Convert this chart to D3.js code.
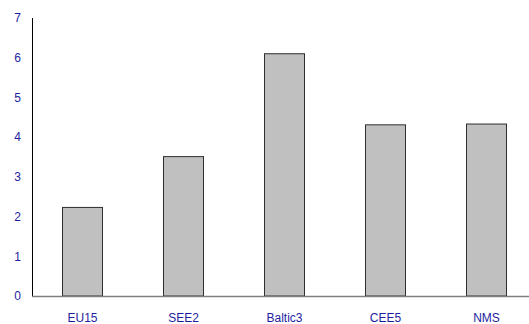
<!DOCTYPE html>
<html>
<head>
<meta charset="utf-8">
<script src="https://cdn.jsdelivr.net/npm/d3@7"></script>
<style>
  html, body { margin: 0; padding: 0; background: #fff; }
  svg { display: block; }
  text { font-family: "Liberation Sans", Arial, sans-serif; }
</style>
</head>
<body>
<svg id="chart" width="529" height="324"></svg>
<script>
// Regional groups and their values
const categories = ["EU15", "SEE2", "Baltic3", "CEE5", "NMS"];
const values = [2.23, 3.51, 6.1, 4.31, 4.33];
const yTicks = [0, 1, 2, 3, 4, 5, 6, 7];

const svg = d3.select("#chart");
const plotLeft = 32, plotRight = 537, plotTop = 18, plotBottom = 296;
const textColor = "#1e1ea0";

const x = d3.scaleBand()
  .domain(categories)
  .range([plotLeft, plotRight])
  .paddingInner(0.6)
  .paddingOuter(0.3);

const y = d3.scaleLinear()
  .domain([0, 7])
  .range([plotBottom, plotTop]);

// Bars
svg.append("g")
  .selectAll("rect")
  .data(categories)
  .join("rect")
  .attr("x", d => Math.round(x(d)) + 0.5)
  .attr("y", (d, i) => y(values[i]))
  .attr("width", Math.round(x.bandwidth()))
  .attr("height", (d, i) => y(0) - y(values[i]))
  .attr("fill", "#c0c0c0")
  .attr("stroke", "#2e2e2e")
  .attr("stroke-width", 1);

// Y axis (line + labels, no tick marks)
const yAxis = svg.append("g")
  .attr("transform", `translate(${plotLeft},0)`)
  .call(d3.axisLeft(y).tickValues(yTicks).tickSize(0).tickPadding(11).tickFormat(d3.format("d")));
yAxis.select(".domain").attr("stroke", "#000").attr("stroke-width", 1).attr("d", `M0.5,${plotTop}V${plotBottom}`);
yAxis.selectAll("text")
  .attr("fill", textColor)
  .attr("font-size", 12)
  .attr("font-family", "Liberation Sans, Arial, sans-serif");

// X axis (grey baseline + category labels)
const xAxis = svg.append("g")
  .attr("transform", `translate(0,${plotBottom})`)
  .call(d3.axisBottom(x).tickSize(0).tickPadding(17));
xAxis.select(".domain").attr("stroke", "#808080").attr("stroke-width", 1.5).attr("d", `M${plotLeft},0.5H529`);
xAxis.selectAll("text")
  .attr("fill", textColor)
  .attr("font-size", 12)
  .attr("font-family", "Liberation Sans, Arial, sans-serif");
</script>
</body>
</html>
